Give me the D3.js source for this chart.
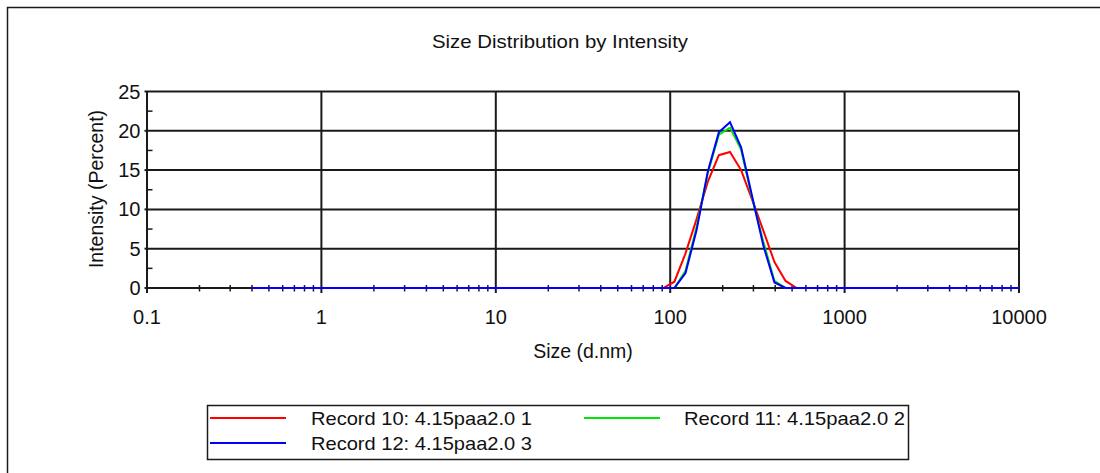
<!DOCTYPE html>
<html>
<head>
<meta charset="utf-8">
<script src="https://cdn.jsdelivr.net/npm/d3@7"></script>
<style>
  html, body { margin: 0; padding: 0; background: #fff; }
  svg { display: block; font-family: "Liberation Sans", Arial, sans-serif; }
</style>
</head>
<body>
<div id="chart"></div>
<script>
// Size distribution by intensity - three DLS records

// size bins (d.nm)
const sizes = [
    0.4000, 0.4632, 0.5365, 0.6213, 0.7195, 0.8332, 0.9649,
    1.117, 1.294, 1.499, 1.736, 2.010, 2.328, 2.696, 3.122, 3.615, 4.187, 4.849, 5.615, 6.503, 7.531, 8.721,
    10.10, 11.70, 13.54, 15.69, 18.17, 21.04, 24.36, 28.21, 32.67, 37.84, 43.82, 50.75, 58.77, 68.06, 78.82, 91.28,
    105.7, 122.4, 141.8, 164.2, 190.1, 220.2, 255.0, 295.3, 342.0, 396.1, 458.7, 531.2, 615.1, 712.4, 825.0, 955.4,
    1106, 1281, 1484, 1718, 1990, 2305, 2669, 3091, 3580, 4145, 4801, 5560, 6439, 7456, 8635, 10000
];

// intensity (%) per bin
const record10 = [
    0, 0, 0, 0, 0, 0, 0,
    0, 0, 0, 0, 0, 0, 0, 0, 0, 0, 0, 0, 0, 0, 0,
    0, 0, 0, 0, 0, 0, 0, 0, 0, 0, 0, 0, 0, 0, 0, 0,
    0.8, 4.4, 8.8, 13.5, 16.9, 17.3, 15.0, 11.2, 7.3, 3.3, 0.9, 0, 0, 0, 0, 0,
    0, 0, 0, 0, 0, 0, 0, 0, 0, 0, 0, 0, 0, 0, 0, 0
];
const record11 = [
    0, 0, 0, 0, 0, 0, 0,
    0, 0, 0, 0, 0, 0, 0, 0, 0, 0, 0, 0, 0, 0, 0,
    0, 0, 0, 0, 0, 0, 0, 0, 0, 0, 0, 0, 0, 0, 0, 0,
    0, 2.2, 7.8, 14.6, 19.5, 20.4, 17.6, 11.4, 5.9, 0.9, 0, 0, 0, 0, 0, 0,
    0, 0, 0, 0, 0, 0, 0, 0, 0, 0, 0, 0, 0, 0, 0, 0
];
const record12 = [
    0, 0, 0, 0, 0, 0, 0,
    0, 0, 0, 0, 0, 0, 0, 0, 0, 0, 0, 0, 0, 0, 0,
    0, 0, 0, 0, 0, 0, 0, 0, 0, 0, 0, 0, 0, 0, 0, 0,
    0, 1.9, 7.4, 14.8, 19.8, 21.1, 17.9, 11.6, 5.4, 0.7, 0, 0, 0, 0, 0, 0,
    0, 0, 0, 0, 0, 0, 0, 0, 0, 0, 0, 0, 0, 0, 0, 0
];

const seriesNames = ["Record 10: 4.15paa2.0 1", "Record 11: 4.15paa2.0 2", "Record 12: 4.15paa2.0 3"];
const seriesColors = ["#ff0000", "#00e600", "#0000ff"];

const xMajorTicks = [0.1, 1, 10, 100, 1000, 10000];
const xTickLabels = ["0.1", "1", "10", "100", "1000", "10000"];
const yMajorTicks = [0, 5, 10, 15, 20, 25];
const yMinorTicks = [2.5, 7.5, 12.5, 17.5, 22.5];

(function () {
    const W = 1100, H = 473;
    const plot = { left: 147, right: 1019, top: 91.5, bottom: 288 };
    const ink = "#1a1a1a";
    const tickFont = 20;
    const labelFont = 19.5;

    const svg = d3.select("#chart").append("svg")
        .attr("width", W)
        .attr("height", H);

    // outer frame (runs off the right/bottom edge)
    svg.append("rect")
        .attr("x", 7.5).attr("y", 7.5)
        .attr("width", 1200).attr("height", 600)
        .attr("fill", "none")
        .attr("stroke", ink)
        .attr("stroke-width", 1.5);

    const x = d3.scaleLog()
        .domain([0.1, 10000])
        .range([plot.left, plot.right]);

    const y = d3.scaleLinear()
        .domain([0, 25])
        .range([plot.bottom, plot.top]);

    // title
    svg.append("text")
        .attr("x", 560)
        .attr("y", 48)
        .attr("text-anchor", "middle")
        .attr("font-size", 19)
        .attr("textLength", 256)
        .attr("lengthAdjust", "spacingAndGlyphs")
        .attr("fill", "#111")
        .text("Size Distribution by Intensity");

    const grid = svg.append("g").attr("class", "grid");

    // horizontal grid lines
    grid.selectAll(".hgrid")
        .data(yMajorTicks.filter(d => d > 0))
        .enter()
        .append("line")
        .attr("x1", plot.left)
        .attr("x2", plot.right)
        .attr("y1", d => y(d))
        .attr("y2", d => y(d))
        .attr("stroke", ink)
        .attr("stroke-width", 2);

    // vertical grid lines at decades
    grid.selectAll(".vgrid")
        .data(xMajorTicks)
        .enter()
        .append("line")
        .attr("x1", d => x(d))
        .attr("x2", d => x(d))
        .attr("y1", plot.top)
        .attr("y2", plot.bottom + 5)
        .attr("stroke", ink)
        .attr("stroke-width", 2);

    // x axis baseline
    grid.append("line")
        .attr("x1", plot.left)
        .attr("x2", plot.right)
        .attr("y1", plot.bottom)
        .attr("y2", plot.bottom)
        .attr("stroke", ink)
        .attr("stroke-width", 2);

    // log minor ticks
    const minor = x.ticks().filter(d => xMajorTicks.indexOf(d) < 0);
    grid.selectAll(".xminor")
        .data(minor)
        .enter()
        .append("line")
        .attr("x1", d => x(d))
        .attr("x2", d => x(d))
        .attr("y1", plot.bottom - 3)
        .attr("y2", plot.bottom + 3.5)
        .attr("stroke", ink)
        .attr("stroke-width", 1.5);

    // y minor ticks (inside)
    grid.selectAll(".yminor")
        .data(yMinorTicks)
        .enter()
        .append("line")
        .attr("x1", plot.left)
        .attr("x2", plot.left + 5.5)
        .attr("y1", d => y(d))
        .attr("y2", d => y(d))
        .attr("stroke", ink)
        .attr("stroke-width", 1.5);

    // y major ticks (small stub to the left)
    grid.selectAll(".ymajor")
        .data(yMajorTicks)
        .enter()
        .append("line")
        .attr("x1", plot.left - 2.5)
        .attr("x2", plot.left)
        .attr("y1", d => y(d))
        .attr("y2", d => y(d))
        .attr("stroke", ink)
        .attr("stroke-width", 2);

    // tick labels
    svg.selectAll(".ylabel")
        .data(yMajorTicks)
        .enter()
        .append("text")
        .attr("x", plot.left - 6.5)
        .attr("y", d => y(d) + 7)
        .attr("text-anchor", "end")
        .attr("font-size", tickFont)
        .attr("fill", "#111")
        .text(d => d);

    svg.selectAll(".xlabel")
        .data(xMajorTicks)
        .enter()
        .append("text")
        .attr("x", d => x(d))
        .attr("y", 324)
        .attr("text-anchor", "middle")
        .attr("font-size", tickFont)
        .attr("fill", "#111")
        .text((d, i) => xTickLabels[i]);

    // axis titles
    svg.append("text")
        .attr("x", 583)
        .attr("y", 358)
        .attr("text-anchor", "middle")
        .attr("font-size", labelFont)
        .attr("fill", "#111")
        .text("Size (d.nm)");

    svg.append("text")
        .attr("transform", "translate(103, 189) rotate(-90)")
        .attr("text-anchor", "middle")
        .attr("font-size", labelFont)
        .attr("fill", "#111")
        .text("Intensity (Percent)");

    // series
    const allSeries = [record10, record11, record12];
    const line = d3.line()
        .x(d => x(d[0]))
        .y(d => y(d[1]));

    allSeries.forEach((vals, i) => {
        svg.append("path")
            .datum(sizes.map((s, k) => [s, vals[k]]))
            .attr("fill", "none")
            .attr("stroke", seriesColors[i])
            .attr("stroke-width", 2)
            .attr("stroke-linejoin", "miter")
            .attr("d", line);
    });

    // legend
    const legend = svg.append("g").attr("class", "legend");

    legend.append("rect")
        .attr("x", 207.5).attr("y", 405.5)
        .attr("width", 701).attr("height", 54)
        .attr("fill", "#fff")
        .attr("stroke", ink)
        .attr("stroke-width", 1.5);

    const legendPos = [
        { lx: 210, tx: 311, ly: 418 },
        { lx: 584, tx: 684, ly: 418 },
        { lx: 210, tx: 311, ly: 443 }
    ];

    const items = legend.selectAll(".legend-item")
        .data(seriesNames)
        .enter()
        .append("g")
        .attr("class", "legend-item")
        .attr("transform", (d, i) => `translate(0, ${legendPos[i].ly})`);

    items.append("line")
        .attr("x1", (d, i) => legendPos[i].lx)
        .attr("x2", (d, i) => legendPos[i].lx + 76)
        .attr("stroke", (d, i) => seriesColors[i])
        .attr("stroke-width", 2);

    // legend text is a bit wider in the reference than Liberation Sans gives
    items.append("text")
        .attr("x", (d, i) => legendPos[i].tx)
        .attr("y", 7)
        .attr("font-size", 19)
        .attr("textLength", 221)
        .attr("lengthAdjust", "spacingAndGlyphs")
        .attr("fill", "#111")
        .text(d => d);
})();
</script>
</body>
</html>
